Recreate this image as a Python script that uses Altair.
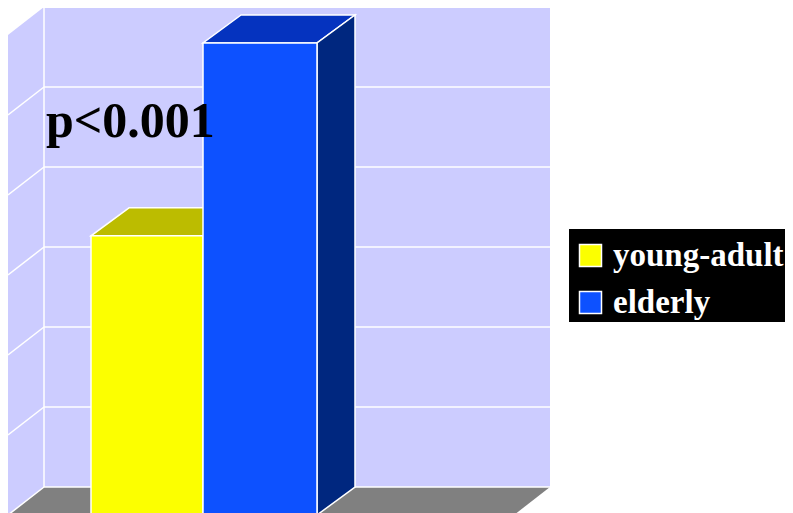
import altair as alt
import pandas as pd

# --- chart values ---
categories = ["young-adult", "elderly"]
values = [3.49, 5.9]
bar_left = [83, 195]
bar_right = [195, 309]
front_colors = ["#FCFF00", "#0D51FF"]
top_colors = ["#BCBC00", "#0533BF"]
side_colors = ["#BCBC00", "#00277F"]
grid_values = [1, 2, 3, 4, 5]
axis_max = 6
annotation = "p<0.001"
legend_box_x = [561, 777]
legend_box_y = [2.4125, 3.575]

# --- oblique projection of the 3D box ---
wall_width = 506
wall_dx = 36
bar_dx = 38
depth_dy = 0.35

X = alt.Scale(domain=[0, 777], range=[0, 777])
Y = alt.Scale(domain=[0.025, 6.3375], range=[505, 0])
WHITE = "#FFFFFF"


def xq(f="x"):
    return alt.X(f"{f}:Q", scale=X, axis=None)


def yq(f="y"):
    return alt.Y(f"{f}:Q", scale=Y, axis=None, stack=None)


left_wall = pd.DataFrame({
    "x": [0, wall_dx],
    "y": [0, depth_dy],
    "y2": [axis_max, axis_max + depth_dy],
})
back_wall = pd.DataFrame([{
    "x": wall_dx, "x2": wall_dx + wall_width,
    "y": depth_dy, "y2": axis_max + depth_dy,
}])
floor = pd.DataFrame({
    "x": [0, wall_dx],
    "x2": [wall_width, wall_dx + wall_width],
    "y": [0, depth_dy],
})
legend_box = pd.DataFrame([{
    "x": legend_box_x[0], "x2": legend_box_x[1],
    "y": legend_box_y[0], "y2": legend_box_y[1],
}])

rules = []
for v in grid_values:
    rules.append({"x": wall_dx, "x2": wall_dx + wall_width, "y": v + depth_dy, "y2": v + depth_dy})
    rules.append({"x": 0, "x2": wall_dx, "y": v, "y2": v + depth_dy})
rules.append({"x": 0, "x2": wall_dx, "y": 0, "y2": depth_dy})
rules.append({"x": wall_dx, "x2": wall_dx + wall_width, "y": depth_dy, "y2": depth_dy})
rules.append({"x": wall_dx, "x2": wall_dx, "y": depth_dy, "y2": axis_max + depth_dy})
rules = pd.DataFrame(rules)

tops, sides, fronts = [], [], []
for c, v, l, r, tc, sc in zip(categories, values, bar_left, bar_right, top_colors, side_colors):
    tops.append({"c": c, "x": l, "x2": r, "y": v, "col": tc})
    tops.append({"c": c, "x": l + bar_dx, "x2": r + bar_dx, "y": v + depth_dy, "col": tc})
    sides.append({"c": c, "x": r, "y": 0, "y2": v, "col": sc})
    sides.append({"c": c, "x": r + bar_dx, "y": depth_dy, "y2": v + depth_dy, "col": sc})
    fronts.append({"c": c, "x": l, "x2": r, "y": 0, "y2": v})
tops = pd.DataFrame(tops)
sides = pd.DataFrame(sides)
fronts = pd.DataFrame(fronts)

wall_style = dict(color="#CCCCFF", clip=True)

layers = [
    alt.Chart(back_wall).mark_rect(**wall_style).encode(x=xq(), x2="x2:Q", y=yq(), y2="y2:Q"),
    alt.Chart(left_wall).mark_area(orient="vertical", **wall_style).encode(x=xq(), y=yq(), y2="y2:Q"),
    alt.Chart(floor).mark_area(orient="horizontal", color="#808080", clip=True).encode(
        x=xq(), x2="x2:Q", y=yq()),
    alt.Chart(rules).mark_rule(color=WHITE, strokeWidth=1.5, clip=True).encode(
        x=xq(), x2="x2:Q", y=yq(), y2="y2:Q"),
    alt.Chart(legend_box).mark_rect(color="#000000").encode(
        x=xq(), x2="x2:Q", y=yq(), y2="y2:Q"),
    alt.Chart(tops).mark_area(orient="horizontal", stroke=WHITE, strokeWidth=1.5, clip=True).encode(
        x=xq(), x2="x2:Q", y=yq(), detail="c:N", fill=alt.Fill("col:N", scale=None)),
    alt.Chart(sides).mark_area(orient="vertical", stroke=WHITE, strokeWidth=1.5, clip=True).encode(
        x=xq(), y=yq(), y2="y2:Q", detail="c:N", fill=alt.Fill("col:N", scale=None)),
    alt.Chart(fronts).mark_rect(stroke=WHITE, strokeWidth=1.5, clip=True).encode(
        x=xq(), x2="x2:Q", y=yq(), y2="y2:Q",
        fill=alt.Fill(
            "c:N",
            scale=alt.Scale(domain=categories, range=front_colors),
            legend=alt.Legend(
                title=None, orient="none", legendX=566, legendY=231,
                padding=0, symbolType="square",
                symbolSize=484, symbolStrokeColor=WHITE, symbolStrokeWidth=1.5,
                labelFont="Liberation Serif", labelFontWeight="bold", labelFontSize=33,
                labelColor=WHITE, labelOffset=6, rowPadding=13, labelLimit=300,
            ),
        ),
    ),
    alt.Chart(pd.DataFrame([{"x": 38, "y": 4.725, "t": annotation}])).mark_text(
        align="left", baseline="alphabetic", font="Liberation Serif", fontWeight="bold",
        fontSize=50, color="#000000",
    ).encode(x=xq(), y=yq(), text="t:N"),
]

chart = alt.layer(*layers).properties(
    width=777, height=505, padding=0, background="#FFFFFF",
    autosize=alt.AutoSizeParams(type="none"),
).configure_view(stroke=None)

chart.save("out.html", embed_options={"renderer": "svg", "actions": False})
